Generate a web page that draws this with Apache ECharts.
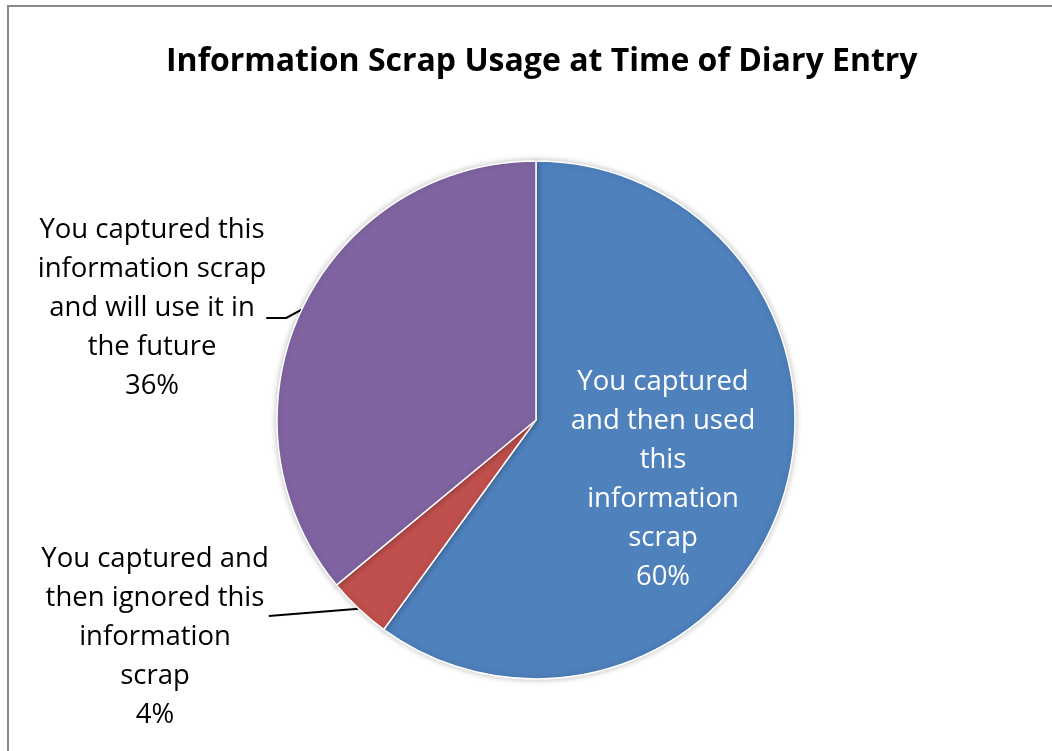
<!DOCTYPE html>
<html>
<head>
<meta charset="utf-8">
<script src="https://cdn.jsdelivr.net/npm/echarts@6/dist/echarts.min.js"></script>
<style>
html,body{margin:0;padding:0;background:#fff;}
#chart{width:1052px;height:751px;}
</style>
</head>
<body>
<div id="chart"></div>
<script>
const titleText = 'Information Scrap Usage at Time of Diary Entry';
const categories = [
  'You captured\nand then used\nthis\ninformation\nscrap',
  'You captured and\nthen ignored this\ninformation\nscrap',
  'You captured this\ninformation scrap\nand will use it in\nthe future'
];
const values = [60, 4, 36];
const colors = ['#4F81BD', '#C0504D', '#8064A2'];

// label placement: centre of the label box; spacer shifts the text inside the box
const labelPos = [
  {x: 663, y: 480, color: '#ffffff', top: 0, bottom: 0, len2: 0},
  {x: 155, y: 616, color: '#000000', top: 42, bottom: 0, len2: 0},
  {x: 152, y: 318, color: '#000000', top: 0, bottom: 20, len2: 20}
];

const chart = echarts.init(document.getElementById('chart'));
const FONT = '"Open Sans", Lato, sans-serif';

chart.setOption({
  animation: false,
  title: {
    text: titleText,
    left: 161,
    top: 41,
    textStyle: {fontFamily: FONT, fontSize: 32, fontWeight: 'bold', color: '#000'}
  },
  graphic: [{
    type: 'rect',
    shape: {x: 8, y: 6, width: 1100, height: 800},
    style: {fill: 'none', stroke: '#898989', lineWidth: 2},
    silent: true,
    z: -1
  }],
  series: [{
    type: 'pie',
    center: [536, 420],
    radius: 259,
    startAngle: 90,
    clockwise: true,
    data: categories.map((c, i) => ({
      name: c,
      value: values[i],
      itemStyle: {color: colors[i]},
      label: {
        position: i === 0 ? 'inside' : 'outside',
        color: labelPos[i].color,
        rich: {
          sptop: {fontSize: 1, lineHeight: labelPos[i].top || 1},
          spbot: {fontSize: 1, lineHeight: labelPos[i].bottom || 1}
        }
      },
      labelLine: {show: i !== 0, length2: labelPos[i].len2}
    })),
    itemStyle: {
      borderColor: '#ffffff',
      borderWidth: 1.5,
      shadowBlur: 6,
      shadowColor: 'rgba(0,0,0,0.25)'
    },
    label: {
      formatter: function (p) {
        const lp = labelPos[p.dataIndex];
        let s = p.name + '\n' + p.value + '%';
        if (lp.top) s = '{sptop| }\n' + s;
        if (lp.bottom) s = s + '\n{spbot| }';
        return s;
      },
      fontFamily: FONT,
      fontSize: 27.5,
      lineHeight: 39,
      align: 'center'
    },
    labelLine: {
      length: 10,
      length2: 0,
      lineStyle: {color: '#000', width: 2},
      smooth: false
    },
    labelLayout: function (params) {
      const p = labelPos[params.dataIndex];
      return {x: p.x, y: p.y, align: 'center', verticalAlign: 'middle'};
    },
    emphasis: {disabled: true}
  }]
});
</script>
</body>
</html>
